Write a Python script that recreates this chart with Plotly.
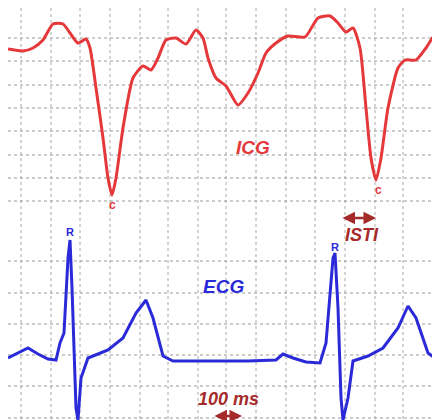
import plotly.graph_objects as go

icg_x = [0,15,25,35,45,55,62,70,78,82,88,95,100,104,108,115,125,135,143,150,158,168,178,188,195,200,208,218,230,240,250,258,268,280,297,310,322,330,338,345,352,358,363,368,373,380,390,397,408,418,428,437]
icg_y = [41,43,40,32,16,16,25,35,31,40,80,130,170,187,170,120,70,58,62,50,32,30,36,22,30,50,70,78,97,85,65,45,35,28,29,10,8,15,24,20,40,100,150,172,150,100,60,52,52,40,26,30]
ecg_x = [0,10,20,30,40,48,52,56,60,62,64,68,70,73,80,90,100,115,128,138,145,155,165,200,240,268,275,285,298,312,318,325,327,330,333,335,340,345,360,375,390,400,408,420,430,440]
ecg_y = [350,345,340,346,351,352,335,325,250,232,280,400,412,370,350,346,342,330,305,292,310,348,353,353,353,352,346,350,354,355,335,250,245,300,390,412,390,353,348,340,320,298,310,345,352,353]
vgrid = [13,43,72,102,132,160,190,218,248,278,307,337,367,395,425]
hgrid = [30,53,77,100,123,147,170,193,253,285,316,347,378,410]

fig = go.Figure()
for gx in vgrid:
    fig.add_shape(type="line", x0=gx, x1=gx, y0=0, y1=420, line=dict(color="#aaa", width=1, dash="dot"), layer="below")
for gy in hgrid:
    fig.add_shape(type="line", x0=0, x1=440, y0=gy, y1=gy, line=dict(color="#999", width=1, dash="dot"), layer="below")
fig.add_trace(go.Scatter(x=icg_x, y=icg_y, mode="lines", line=dict(color="#e4383b", width=3, shape="spline", smoothing=0.6)))
fig.add_trace(go.Scatter(x=ecg_x, y=ecg_y, mode="lines", line=dict(color="#2a2ad8", width=3)))

def txt(x, y, t, c, s, it=False):
    fig.add_annotation(x=x, y=y, text=(f"<i><b>{t}</b></i>" if it else f"<b>{t}</b>"), showarrow=False,
                       font=dict(color=c, size=s, family="Liberation Sans"))
txt(104, 197, "c", "#e4383b", 12)
txt(370, 182, "c", "#e4383b", 12)
txt(62, 224, "R", "#2a2ad8", 11)
txt(327, 239, "R", "#2a2ad8", 11)
txt(245, 139, "ICG", "#e4383b", 19, True)
txt(215, 278, "ECG", "#2a2ad8", 19, True)
txt(354, 227, "ISTI", "#a52a2a", 18, True)
txt(220, 391, "100 ms", "#a52a2a", 18, True)
for (a, b, y) in [(333, 368, 210), (205, 234, 408)]:
    fig.add_annotation(x=b, y=y, ax=a, ay=y, xref="x", yref="y", axref="x", ayref="y", text="",
                       showarrow=True, arrowhead=2, arrowside="end+start", arrowsize=1, arrowwidth=2.5, arrowcolor="#a52a2a")

fig.update_layout(width=440, height=420, margin=dict(l=0, r=0, t=0, b=0), showlegend=False,
                  plot_bgcolor="white", paper_bgcolor="white",
                  xaxis=dict(range=[0, 440], visible=False),
                  yaxis=dict(range=[420, 0], visible=False))
fig.write_html("out.html")
